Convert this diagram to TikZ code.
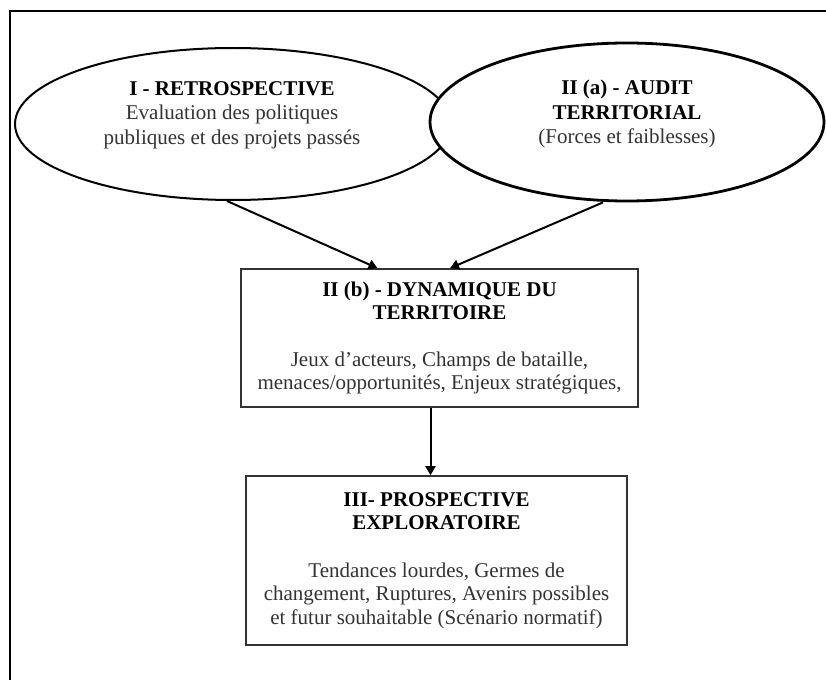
\documentclass[tikz,border=0pt]{standalone}
\usepackage{fontspec}
\setmainfont{Liberation Serif}
\usetikzlibrary{positioning}
\usetikzlibrary{shapes.geometric,calc}
\usetikzlibrary{arrows.meta}

\begin{document}
\begin{tikzpicture}[x=1pt,y=-1pt,
	phase/.style={ellipse,draw=black,fill=white,line width=2pt},
	etape/.style={rectangle,draw=black!80,line width=1.6pt,align=center,text=black!80,font=\fontsize{21}{23.5}\selectfont},
	txt/.style={align=center,text=black!80,font=\fontsize{21}{24.5}\selectfont},
	fleche/.style={line width=2pt,-{Triangle[length=9pt,width=10pt]}}]
	\useasboundingbox (0,0) rectangle (826,679);
	% cadre
	\draw[line width=2pt] (10,690) -- (10,11) -- (840,11);
	% les deux ellipses
	\node[phase,minimum width=436pt,minimum height=152pt,name=retro] at (233,124) {};
	\node[phase,line width=2.8pt,minimum width=394pt,minimum height=158pt,name=audit] at (627,122) {};
	\node[txt] at ([yshift=9pt]232,124) {\textbf{\color{black}I - RETROSPECTIVE}\\Evaluation des politiques\\publiques et des projets passés};
	\node[txt] at ([yshift=8pt]audit.center) {\textbf{\color{black}II (a) -  AUDIT}\\\textbf{\color{black}TERRITORIAL}\\(Forces et faiblesses)};
	% les deux cadres
	\node[etape,minimum width=397pt,minimum height=138pt] (dyn) at (439.5,338) {\textbf{\color{black}II (b) - DYNAMIQUE DU}\\\textbf{\color{black}TERRITOIRE}\\[23pt]Jeux d’acteurs, Champs de bataille,\\menaces/opportunités, Enjeux stratégiques,};
	\node[etape,minimum width=381pt,minimum height=169pt] (prosp) at (436.5,560.5) {\textbf{\color{black}III- PROSPECTIVE}\\\textbf{\color{black}EXPLORATOIRE}\\[24pt]Tendances lourdes, Germes de\\changement, Ruptures, Avenirs possibles\\et futur souhaitable (Scénario normatif)};
	% fleches
	\draw[fleche] ([xshift=-6pt]retro.south) -- ([xshift=-62pt]dyn.north);
	\draw[fleche] ([xshift=-24pt]audit.south) -- ([xshift=10.5pt]dyn.north);
	\draw[fleche] ([xshift=-9pt]dyn.south) -- ([xshift=-6pt]prosp.north);
\end{tikzpicture}
\end{document}
